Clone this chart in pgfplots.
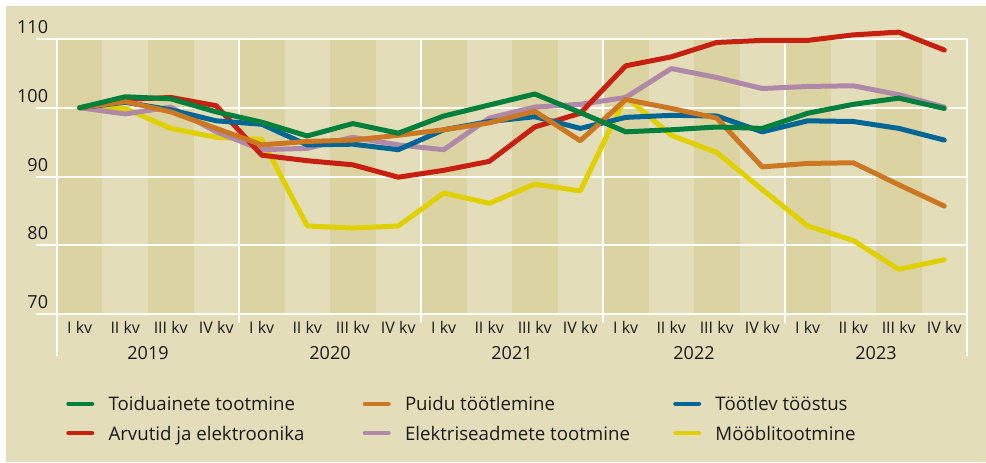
\documentclass[border=0pt]{standalone}
\usepackage{fontspec}
\setmainfont{Open Sans}
\usepackage{pgfplots}
\usepackage{pgfplotstable}
\pgfplotsset{compat=1.18}
\definecolor{bg}{HTML}{E4DDB9}
\definecolor{stripe}{HTML}{DCD3A3}
\definecolor{cgreen}{HTML}{00803C}
\definecolor{corange}{HTML}{CC7722}
\definecolor{cblue}{HTML}{006696}
\definecolor{cred}{HTML}{C82010}
\definecolor{cmauve}{HTML}{B088A8}
\definecolor{cyellow}{HTML}{E0D000}
\definecolor{txt}{HTML}{1A1A1A}

\pgfplotstableread{
q  green  orange blue  red    mauve  yellow
0  100.0  100.0  100.0 100.0  100.0  100.0
1  101.6  100.9  100.8 101.2  99.1   99.9
2  101.3  99.4   99.7  101.5  100.1  97.0
3  99.4   97.0   98.1  100.3  96.5   95.7
4  97.9   94.6   97.6  93.1   93.9   95.4
5  95.9   95.1   94.6  92.3   94.1   82.8
6  97.7   95.3   94.7  91.7   95.7   82.5
7  96.3   96.0   93.9  89.9   94.6   82.8
8  98.8   96.8   96.8  90.9   93.9   87.6
9  100.4  97.8   98.0  92.2   98.5   86.1
10 102.0  99.5   98.7  97.2   100.1  88.9
11 99.3   95.2   97.0  99.2   100.5  87.9
12 96.5   101.2  98.6  106.1  101.5  101.6
13 96.8   99.9   98.9  107.4  105.7  96.0
14 97.2   98.5   98.8  109.5  104.4  93.5
15 97.0   91.4   96.5  109.8  102.8  88.1
16 99.2   91.9   98.1  109.8  103.1  82.8
17 100.5  92.0   98.0  110.6  103.2  80.7
18 101.4  88.8   97.0  111.0  101.9  76.5
19 99.9   85.7   95.3  108.4  100.1  77.9
}\data

\newcommand{\legA}[1]{\hspace*{10.7pt}\makebox[190.65pt][l]{#1\strut}}
\newcommand{\legB}[1]{\hspace*{10.7pt}\makebox[201.15pt][l]{#1\strut}}
\newcommand{\legC}[1]{\hspace*{10.7pt}\makebox[150pt][l]{#1\strut}}

\begin{document}
\begin{tikzpicture}
\fill[white] (0,0) rectangle (739.5pt,-346.5pt);
\fill[bg] (4.5pt,-4.5pt) rectangle (739.5pt,-346.5pt);
\path[use as bounding box] (0,0) rectangle (739.5pt,-346.5pt);
\begin{axis}[
  at={(42.75pt,-235.5pt)}, anchor=south west,
  width=682.5pt, height=206.25pt, scale only axis,
  xmin=-0.5, xmax=19.5, ymin=70, ymax=110,
  clip=false,
  axis line style={draw=none},
  major tick length=0pt,
  xtick={0,...,19},
  xticklabels={I kv,II kv,III kv,IV kv,I kv,II kv,III kv,IV kv,I kv,II kv,III kv,IV kv,I kv,II kv,III kv,IV kv,I kv,II kv,III kv,IV kv},
  ytick={70,80,90,100,110},
  /pgf/number format/assume math mode=true,
  yticklabel style={font=\fontsize{13.5}{16}\selectfont, text=txt, anchor=base east, inner sep=0pt, xshift=-6.5pt, yshift=4pt},
  xticklabel style={font=\fontsize{12}{14}\selectfont, text=txt, anchor=base, inner sep=0pt, yshift=-14.5pt},
  legend columns=3, reverse legend,
  legend style={draw=none, fill=none, inner sep=0pt, outer sep=0pt,
    at={(0.0102,-0.38)}, anchor=west, row sep=8.5pt, column sep=0pt,
    font=\fontsize{14}{17}\selectfont, text=txt, nodes={inner sep=0pt}},
  legend image code/.code={\draw[#1, line width=3.4pt, line cap=round] (0pt,0pt) -- (17.6pt,0pt);},
  every axis plot/.append style={line width=3.75pt, line join=round, line cap=round},
]
% stripes
\fill[stripe] (axis cs:-0.5,70) rectangle (axis cs:0.5,110);
\fill[stripe] (axis cs:1.5,70) rectangle (axis cs:2.5,110);
\fill[stripe] (axis cs:3.5,70) rectangle (axis cs:4.5,110);
\fill[stripe] (axis cs:5.5,70) rectangle (axis cs:6.5,110);
\fill[stripe] (axis cs:7.5,70) rectangle (axis cs:8.5,110);
\fill[stripe] (axis cs:9.5,70) rectangle (axis cs:10.5,110);
\fill[stripe] (axis cs:11.5,70) rectangle (axis cs:12.5,110);
\fill[stripe] (axis cs:13.5,70) rectangle (axis cs:14.5,110);
\fill[stripe] (axis cs:15.5,70) rectangle (axis cs:16.5,110);
\fill[stripe] (axis cs:17.5,70) rectangle (axis cs:18.5,110);
% horizontal grid
\draw[white, line width=1.5pt] (axis cs:-0.9615,110) -- (axis cs:19.5,110);
\draw[white, line width=1.5pt] (axis cs:-0.9615,100) -- (axis cs:19.5,100);
\draw[white, line width=1.5pt] (axis cs:-0.9615,90) -- (axis cs:19.5,90);
\draw[white, line width=1.5pt] (axis cs:-0.9615,80) -- (axis cs:19.5,80);
\draw[white, line width=2.2pt] (axis cs:-0.9615,70) -- (axis cs:19.5,70);
% vertical year lines
\draw[white, line width=1.5pt] (axis cs:-0.5,110) -- (axis cs:-0.5,63.89);
\draw[white, line width=1.5pt] (axis cs:3.5,110) -- (axis cs:3.5,68.69);
\draw[white, line width=1.5pt] (axis cs:7.5,110) -- (axis cs:7.5,68.69);
\draw[white, line width=1.5pt] (axis cs:11.5,110) -- (axis cs:11.5,68.69);
\draw[white, line width=1.5pt] (axis cs:15.5,110) -- (axis cs:15.5,68.69);
\draw[white, line width=1.5pt] (axis cs:19.5,110) -- (axis cs:19.5,63.89);
% years
\node[anchor=base, yshift=-34pt, text=txt, font=\fontsize{13.5}{16}\selectfont] at (axis cs:1.5,70) {2019};
\node[anchor=base, yshift=-34pt, text=txt, font=\fontsize{13.5}{16}\selectfont] at (axis cs:5.5,70) {2020};
\node[anchor=base, yshift=-34pt, text=txt, font=\fontsize{13.5}{16}\selectfont] at (axis cs:9.5,70) {2021};
\node[anchor=base, yshift=-34pt, text=txt, font=\fontsize{13.5}{16}\selectfont] at (axis cs:13.5,70) {2022};
\node[anchor=base, yshift=-34pt, text=txt, font=\fontsize{13.5}{16}\selectfont] at (axis cs:17.5,70) {2023};
% data
\addplot[cyellow] table[x=q, y=yellow]{\data};
\addlegendentry{\legC{Mööblitootmine}}
\addplot[cmauve] table[x=q, y=mauve]{\data};
\addlegendentry{\legB{Elektriseadmete tootmine}}
\addplot[cred] table[x=q, y=red]{\data};
\addlegendentry{\legA{Arvutid ja elektroonika}}
\addplot[cblue] table[x=q, y=blue]{\data};
\addlegendentry{\legC{Töötlev tööstus}}
\addplot[corange] table[x=q, y=orange]{\data};
\addlegendentry{\legB{Puidu töötlemine}}
\addplot[cgreen] table[x=q, y=green]{\data};
\addlegendentry{\legA{Toiduainete tootmine}}
\end{axis}
\end{tikzpicture}
\end{document}
